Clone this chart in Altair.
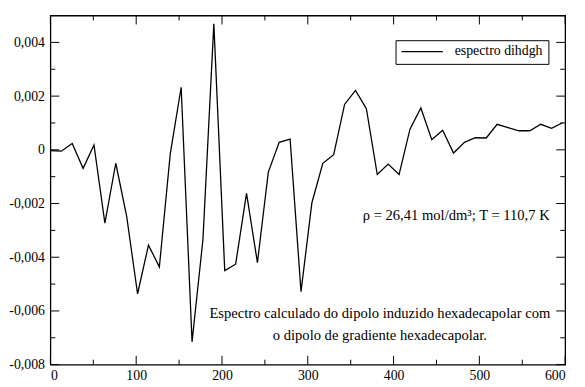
import altair as alt
import pandas as pd

# ---- data ----
freq = [0.0, 12.7, 25.4, 38.1, 50.8, 63.5, 76.2, 88.9, 101.6, 114.3,
        127.0, 139.7, 152.4, 165.1, 177.8, 190.5, 203.2, 215.9, 228.6, 241.3,
        254.0, 266.7, 279.4, 292.1, 304.8, 317.5, 330.2, 342.9, 355.6, 368.3,
        381.0, 393.7, 406.4, 419.1, 431.8, 444.5, 457.2, 469.9, 482.6, 495.3,
        508.0, 520.7, 533.4, 546.1, 558.8, 571.5, 584.2, 596.9]
spec = [-0.00003, -0.00005, 0.00024, -0.00069, 0.00018, -0.00273, -0.00050, -0.00248, -0.00536, -0.00355,
        -0.00436, -0.00015, 0.00233, -0.00715, -0.00334, 0.00469, -0.00450, -0.00426, -0.00162, -0.00420,
        -0.00083, 0.00028, 0.00040, -0.00528, -0.00197, -0.00050, -0.00018, 0.00169, 0.00221, 0.00153,
        -0.00092, -0.00053, -0.00092, 0.00077, 0.00156, 0.00038, 0.00073, -0.00012, 0.00028, 0.00045,
        0.00044, 0.00095, 0.00083, 0.00071, 0.00071, 0.00095, 0.00080, 0.00101]
series_name = "espectro dihdgh"

x_major = [0, 100, 200, 300, 400, 500, 600]
x_minor = [50, 150, 250, 350, 450, 550]
y_major = [-0.008, -0.006, -0.004, -0.002, 0.0, 0.002, 0.004]
y_minor = [-0.007, -0.005, -0.003, -0.001, 0.001, 0.003, 0.005]

# annotations (in data units)
note1_text = ["\u03c1 = 26,41 mol/dm\u00b3; T = 110,7 K"]
note1_x = [582.0]
note1_y = [-0.00246]
note2_text = ["Espectro calculado do dipolo induzido hexadecapolar com",
              "o dipolo de gradiente hexadecapolar."]
note2_x = [384.0, 384.0]
note2_y = [-0.00610, -0.00695]

FONT = "Liberation Serif"
W, H = 522, 354
MAJ, MIN = 9, 5

df = pd.DataFrame({"freq": freq, "val": spec, "series": [series_name] * len(freq)})
n1 = pd.DataFrame({"x": note1_x, "y": note1_y, "t": note1_text})
n2 = pd.DataFrame({"x": note2_x, "y": note2_y, "t": note2_text})

xscale = alt.Scale(domain=[0, 600], nice=False, zero=False)
yscale = alt.Scale(domain=[-0.008, 0.005], nice=False, zero=False)

ylabel = ("datum.value == 0 ? '0' : replace(replace(format(datum.value, '.3f'), '.', ','), '\u2212', '-')")

common = dict(domain=False, grid=False, title=None, ticks=False, tickSize=0,
              labelFont=FONT, labelFontSize=14, labelColor="black")

main = alt.Chart(df).mark_line(strokeWidth=1.3, clip=True, color="black").encode(
    x=alt.X("freq:Q", scale=xscale,
            axis=alt.Axis(orient="bottom", values=x_major, labelPadding=4, **common)),
    y=alt.Y("val:Q", scale=yscale,
            axis=alt.Axis(orient="left", values=y_major, labelPadding=6, labelExpr=ylabel, **common)),
    color=alt.Color("series:N", scale=alt.Scale(range=["black"]),
                    legend=alt.Legend(title=None, orient="none", legendX=350, legendY=25,
                                      symbolType="stroke", symbolSize=1764,
                                      symbolStrokeWidth=1.3, symbolStrokeColor="black",
                                      labelFont=FONT, labelFontSize=14, labelColor="black",
                                      labelOffset=11, padding=5, clipHeight=13,
                                      strokeColor="black", fillColor="white")),
)


def xticks(values, y0, y1):
    d = pd.DataFrame({"v": values})
    return alt.Chart(d).mark_rule(color="black", strokeWidth=1).encode(
        x=alt.X("v:Q", scale=xscale, axis=None),
        y=alt.value(y0), y2=alt.value(y1))


def yticks(values, x0, x1):
    d = pd.DataFrame({"v": values})
    return alt.Chart(d).mark_rule(color="black", strokeWidth=1).encode(
        y=alt.Y("v:Q", scale=yscale, axis=None),
        x=alt.value(x0), x2=alt.value(x1))


ticks = [
    xticks(x_major, H, H - MAJ), xticks(x_minor, H, H - MIN),
    xticks(x_major, 0, MAJ), xticks(x_minor, 0, MIN),
    yticks(y_major, 0, MAJ), yticks(y_minor, 0, MIN),
    yticks(y_major, W, W - MAJ), yticks(y_minor, W, W - MIN),
]

t1 = alt.Chart(n1).mark_text(font=FONT, fontSize=14.8, align="right", baseline="middle",
                             color="black").encode(
    x=alt.X("x:Q", scale=xscale, axis=None),
    y=alt.Y("y:Q", scale=yscale, axis=None),
    text="t:N",
)
t2 = alt.Chart(n2).mark_text(font=FONT, fontSize=14.8, align="center", baseline="middle",
                             color="black").encode(
    x=alt.X("x:Q", scale=xscale, axis=None),
    y=alt.Y("y:Q", scale=yscale, axis=None),
    text="t:N",
)

chart = alt.layer(main, *ticks, t1, t2).resolve_axis(
    x="independent", y="independent"
).properties(
    width=W, height=H,
    autosize=alt.AutoSizeParams(type="none"),
    padding={"left": 43, "top": 5, "right": 12, "bottom": 20},
    background="white",
).configure_view(stroke="black", strokeWidth=1.3)

chart.save("out.html", embed_options={"renderer": "svg", "actions": False})
